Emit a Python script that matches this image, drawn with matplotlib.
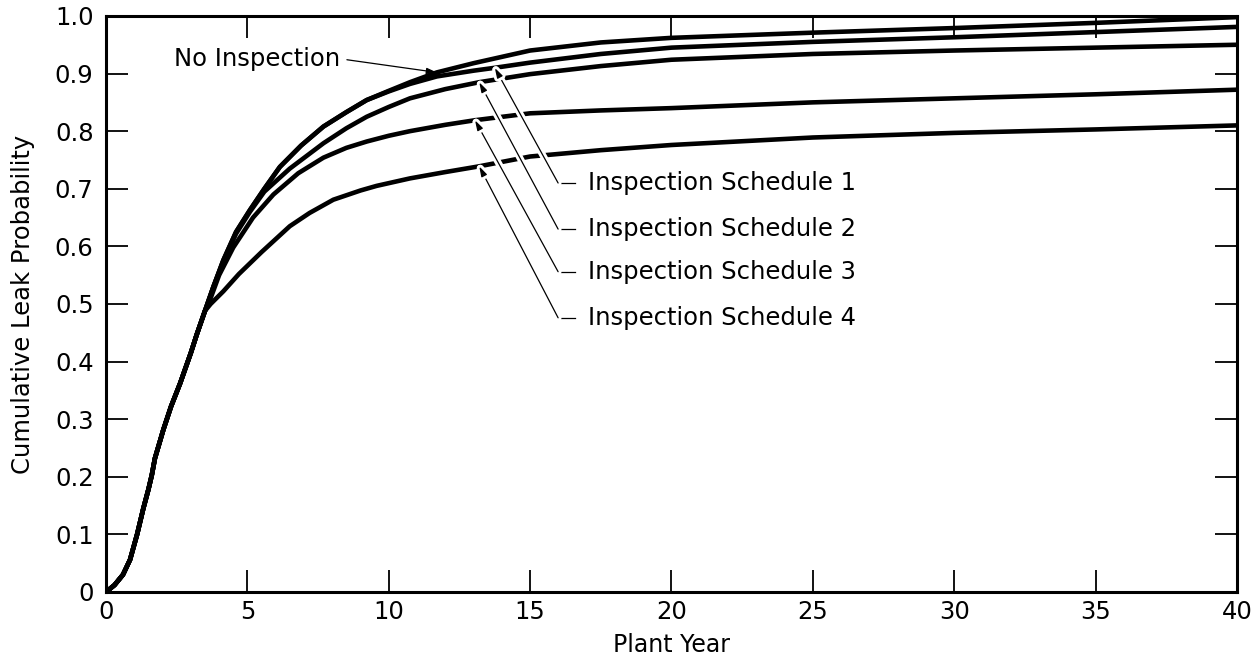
import matplotlib
matplotlib.use("Agg")
import matplotlib.pyplot as plt
import matplotlib.patheffects as pe
import numpy as np

plt.rcParams['font.family'] = ['DejaVu Sans']

# Early portion shared by all curves (plant year, probability)
base_x = [0.0, 0.3, 0.6, 0.85, 1.1, 1.32, 1.5, 1.62, 1.73, 2.03, 2.3, 2.62, 3.0, 3.21, 3.5]
base_y = [0.0, 0.012, 0.03, 0.056, 0.1, 0.145, 0.178, 0.203, 0.232, 0.282, 0.322, 0.362, 0.415, 0.447, 0.488]

no_insp_x = [3.8, 4.15, 4.6, 5.09, 5.6, 6.15, 6.9, 7.69, 8.5, 9.22, 10.0, 10.75, 11.7, 13.0,
             15.0, 17.5, 20.0, 25.0, 30.0, 35.0, 40.0]
no_insp_y = [0.53, 0.576, 0.625, 0.663, 0.70, 0.738, 0.775, 0.808, 0.833, 0.854, 0.870, 0.885, 0.902, 0.918,
             0.940, 0.954, 0.962, 0.971, 0.979, 0.988, 0.998]

sched1_x = [3.8, 4.15, 4.6, 5.09, 5.6, 6.15, 6.9, 7.69, 8.5, 9.22, 10.0, 10.75, 11.7, 13.0,
            13.75, 15.0, 17.5, 20.0, 25.0, 30.0, 35.0, 40.0]
sched1_y = [0.53, 0.576, 0.625, 0.663, 0.70, 0.738, 0.775, 0.808, 0.833, 0.854, 0.869, 0.882, 0.895, 0.905,
            0.910, 0.919, 0.934, 0.945, 0.955, 0.963, 0.972, 0.981]

sched2_x = [3.8, 4.15, 4.6, 5.09, 5.6, 6.5, 7.69, 8.5, 9.22, 10.0, 10.75, 12.0, 13.2,
            15.0, 17.5, 20.0, 25.0, 30.0, 35.0, 40.0]
sched2_y = [0.53, 0.574, 0.622, 0.66, 0.695, 0.735, 0.779, 0.805, 0.825, 0.842, 0.857, 0.873, 0.885,
            0.899, 0.913, 0.924, 0.934, 0.940, 0.945, 0.950]

sched3_x = [3.7, 4.0, 4.5, 5.2, 5.92, 6.8, 7.69, 8.5, 9.22, 10.0, 10.75, 12.0, 13.05,
            15.0, 17.5, 20.0, 25.0, 30.0, 35.0, 40.0]
sched3_y = [0.51, 0.55, 0.598, 0.65, 0.69, 0.727, 0.754, 0.771, 0.782, 0.792, 0.800, 0.811, 0.819,
            0.831, 0.836, 0.840, 0.850, 0.857, 0.864, 0.872]

sched4_x = [3.7, 4.15, 4.7, 5.5, 6.5, 7.2, 8.04, 9.0, 9.57, 10.75, 12.0, 13.2,
            15.0, 17.5, 20.0, 25.0, 30.0, 35.0, 40.0]
sched4_y = [0.50, 0.522, 0.552, 0.59, 0.635, 0.658, 0.681, 0.697, 0.705, 0.718, 0.729, 0.739,
            0.756, 0.767, 0.776, 0.789, 0.797, 0.803, 0.810]

x_ticks = [0, 5, 10, 15, 20, 25, 30, 35, 40]
y_ticks = [0, 0.1, 0.2, 0.3, 0.4, 0.5, 0.6, 0.7, 0.8, 0.9, 1.0]
y_tick_labels = ['0', '0.1', '0.2', '0.3', '0.4', '0.5', '0.6', '0.7', '0.8', '0.9', '1.0']

series_labels = ['Inspection Schedule 1', 'Inspection Schedule 2',
                 'Inspection Schedule 3', 'Inspection Schedule 4']

fig = plt.figure(figsize=(12.59, 6.65), dpi=100)
ax = fig.add_axes([0.0842, 0.1098, 0.8983, 0.8662])

curves = [
    (no_insp_x, no_insp_y),
    (sched1_x, sched1_y),
    (sched2_x, sched2_y),
    (sched3_x, sched3_y),
    (sched4_x, sched4_y),
]
for cx, cy in curves:
    ax.plot(base_x + cx, base_y + cy, color='black', lw=3.3,
            solid_capstyle='butt', solid_joinstyle='round', zorder=2)

ax.set_xlim(0, 40)
ax.set_ylim(0, 1.0)
ax.set_xticks(x_ticks)
ax.set_xticklabels([str(t) for t in x_ticks])
ax.set_yticks(y_ticks)
ax.set_yticklabels(y_tick_labels)
ax.tick_params(axis='both', which='both', direction='in', length=16, width=1.3,
               top=True, right=True, labelsize=17.5, colors='black')
ax.tick_params(axis='y', pad=9)
ax.tick_params(axis='x', pad=6)
for sp in ax.spines.values():
    sp.set_linewidth(2.2)

ax.set_xlabel('Plant Year', fontsize=17, labelpad=6)
ax.set_ylabel('Cumulative Leak Probability', fontsize=17.5, labelpad=14)

halo = [pe.withStroke(linewidth=5, foreground='white')]
arrow_kw = dict(arrowstyle='-|>,head_length=0.6,head_width=0.18', color='black',
                lw=0.9, shrinkA=0, shrinkB=0)

# "No Inspection" label with its leader
ax.text(8.28, 0.926, 'No Inspection', fontsize=17.5, ha='right', va='center', zorder=5)
ax.annotate('', xy=(11.7, float(np.interp(11.7, no_insp_x, no_insp_y))), xytext=(8.52, 0.924),
            arrowprops=dict(arrow_kw), zorder=4)

# Schedule labels: short horizontal stub, then diagonal leader to the curve
tips = [(sched1_x, sched1_y, 13.75), (sched2_x, sched2_y, 13.2),
        (sched3_x, sched3_y, 13.05), (sched4_x, sched4_y, 13.2)]
label_y = [0.710, 0.630, 0.556, 0.476]
corner_x = 15.99
text_x = 17.05
for (sx, sy, tx), ly, lab in zip(tips, label_y, series_labels):
    ty = float(np.interp(tx, sx, sy))
    ax.plot([corner_x, 16.6], [ly, ly], color='black', lw=0.9, zorder=4)
    ax.annotate('', xy=(tx, ty), xytext=(corner_x, ly),
                arrowprops=dict(arrow_kw, path_effects=halo), zorder=4)
    ax.text(text_x, ly, lab, fontsize=17.5, ha='left', va='center', zorder=5)

fig.savefig('out.png', dpi=100)
